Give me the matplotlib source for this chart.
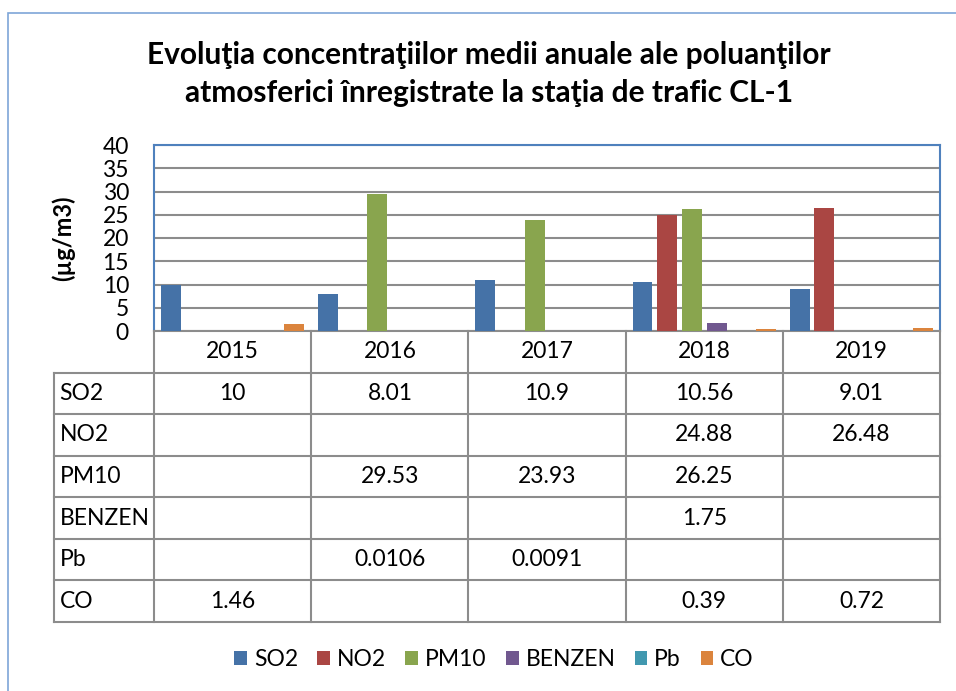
import numpy as np
import matplotlib
matplotlib.use("Agg")
import matplotlib.pyplot as plt
from matplotlib.patches import Rectangle

plt.rcParams["font.family"] = ["Lato", "DejaVu Sans"]

years = ["2015", "2016", "2017", "2018", "2019"]
pollutants = ["SO2", "NO2", "PM10", "BENZEN", "Pb", "CO"]
so2 = [10, 8.01, 10.9, 10.56, 9.01]
no2 = [None, None, None, 24.88, 26.48]
pm10 = [None, 29.53, 23.93, 26.25, None]
benzen = [None, None, None, 1.75, None]
pb = [None, 0.0106, 0.0091, None, None]
co = [1.46, None, None, 0.39, 0.72]
series = [so2, no2, pm10, benzen, pb, co]
colors = ["#4572A7", "#AA4643", "#89A54E", "#71588F", "#4198AF", "#DB843D"]

W, H = 956, 691
fs = 16.5
fig = plt.figure(figsize=(W / 100, H / 100), dpi=100)


def px_axes(left, top, right, bottom):
    return fig.add_axes([left / W, 1 - bottom / H, (right - left) / W, (bottom - top) / H])


# outer chart border
fig.patches.append(Rectangle((8 / W, -0.05), 1.1, 1 - 13 / H + 0.05, transform=fig.transFigure,
                             fill=False, edgecolor="#7EA6D8", lw=1.2))

fig.text(489 / W, 1 - 55 / H, "Evoluţia concentraţiilor medii anuale ale poluanţilor",
         ha="center", va="center", fontsize=21.5, fontweight="bold")
fig.text(489 / W, 1 - 93 / H, "atmosferici înregistrate la staţia de trafic CL-1",
         ha="center", va="center", fontsize=21.5, fontweight="bold")

# bar chart
ax = px_axes(154, 145, 940, 331)
x = np.arange(len(years))
step = 0.157
width = 0.127
for i, (name, vals, c) in enumerate(zip(pollutants, series, colors)):
    h = [v if v is not None else 0 for v in vals]
    ax.bar(x + (i - 2.5) * step, h, width, color=c, label=name, zorder=3)
ax.set_xlim(-0.5, len(years) - 0.5)
ax.set_ylim(0, 40)
ax.set_yticks(np.arange(0, 41, 5))
ax.set_xticks([])
ax.tick_params(axis="y", length=0, pad=18, labelsize=fs)
ax.yaxis.grid(True, color="#8C8C8C", lw=1.5, zorder=0)
for s in ["top", "left", "right"]:
    ax.spines[s].set_color("#4F81BD")
    ax.spines[s].set_linewidth(1.5)
ax.spines["bottom"].set_color("#8C8C8C")
ax.spines["bottom"].set_linewidth(1.5)
ax.set_ylabel("(µg/m3)", fontsize=17, fontweight="bold", labelpad=20)

# data table below
tax = px_axes(54, 331, 940, 622)
left_col = -0.5 - (154 - 54) / 157
tax.set_xlim(left_col, len(years) - 0.5)
nrows = len(pollutants) + 1
tax.set_ylim(nrows, 0)
tax.axis("off")
lc = "#8C8C8C"
lw = 1.5
for j in range(len(years) + 1):
    tax.plot([j - 0.5, j - 0.5], [0, nrows], color=lc, lw=lw, clip_on=False)
tax.plot([left_col, left_col], [1, nrows], color=lc, lw=lw, clip_on=False)
for r in range(1, nrows + 1):
    tax.plot([left_col, len(years) - 0.5], [r, r], color=lc, lw=lw, clip_on=False)
for j, yr in enumerate(years):
    tax.text(j, 0.5, yr, ha="center", va="center", fontsize=fs)
for r, (name, vals) in enumerate(zip(pollutants, series), start=1):
    tax.text(left_col + 0.035, r + 0.5, name, ha="left", va="center", fontsize=fs)
    for j, v in enumerate(vals):
        if v is not None:
            tax.text(j, r + 0.5, f"{v:g}", ha="center", va="center", fontsize=fs)

handles, labels = ax.get_legend_handles_labels()
fig.legend(handles, labels, loc="center", bbox_to_anchor=(494 / W, 1 - 660 / H), ncol=6,
           frameon=False, fontsize=fs, handlelength=0.55, handleheight=0.55,
           handletextpad=0.3, columnspacing=0.85)

fig.savefig("out.png", dpi=100)
